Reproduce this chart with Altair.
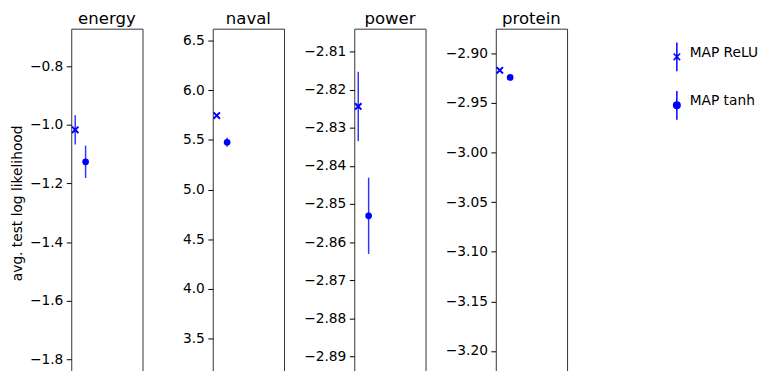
import altair as alt
import pandas as pd

# ---- data ----
datasets = ["energy", "naval", "power", "protein"]
models = ["MAP ReLU", "MAP tanh"]
model_pos = [0, 1]

relu_mean = [-1.017, 5.745, -2.8244, -2.9173]
relu_err = [0.050, 0.012, 0.0091, 0.0015]
tanh_mean = [-1.126, 5.476, -2.8531, -2.9245]
tanh_err = [0.055, 0.045, 0.0100, 0.0015]

y_lo = [-1.860, 3.111, -2.8954, -3.2262]
y_hi = [-0.672, 6.620, -2.8040, -2.8754]

energy_ticks = [-1.8, -1.6, -1.4, -1.2, -1.0, -0.8]
naval_ticks = [3.5, 4.0, 4.5, 5.0, 5.5, 6.0, 6.5]
power_ticks = [-2.89, -2.88, -2.87, -2.86, -2.85, -2.84, -2.83, -2.82, -2.81]
protein_ticks = [-3.20, -3.15, -3.10, -3.05, -3.00, -2.95, -2.90]
all_ticks = [energy_ticks, naval_ticks, power_ticks, protein_ticks]
tick_formats = [".1f", ".1f", ".2f", ".2f"]

y_title = "avg. test log likelihood"

# ---- styling ----
FONT = "DejaVu Sans"
BLUE = "#0000ff"
X_DOMAIN = [-0.381, 6.476]
PANEL_W = 72
PANEL_H = 352

X_MARK = "M-1,-1L1,1M-1,1L1,-1"
LEG_RELU = "M0,-2.9L0,2.9M-0.66,-0.66L0.66,0.66M-0.66,0.66L0.66,-0.66"
LEG_TANH = "M0,-2.9L0,2.9M0.66,0A0.66,0.66,0,1,1,-0.66,0A0.66,0.66,0,1,1,0.66,0Z"


def panel(i):
    df = pd.DataFrame({
        "model": models,
        "pos": model_pos,
        "mean": [relu_mean[i], tanh_mean[i]],
        "err": [relu_err[i], tanh_err[i]],
    })
    base = alt.Chart(df)
    xenc = alt.X("pos:Q", scale=alt.Scale(domain=X_DOMAIN, nice=False, zero=False), axis=None)
    yscale = alt.Scale(domain=[y_lo[i], y_hi[i]], nice=False, zero=False)
    axis_kw = dict(values=all_ticks[i], format=tick_formats[i], minExtent=42, maxExtent=42)
    if i == 0:
        yaxis = alt.Axis(title=y_title, titlePadding=5, **axis_kw)
    else:
        yaxis = alt.Axis(title=None, **axis_kw)

    bars = base.transform_calculate(
        lo="datum.mean - datum.err", hi="datum.mean + datum.err"
    ).mark_rule(color=BLUE, strokeWidth=1.5, opacity=0.8).encode(
        x=xenc,
        y=alt.Y("lo:Q", scale=yscale, axis=yaxis),
        y2="hi:Q",
    )
    relu = base.transform_filter(alt.datum.model == "MAP ReLU").mark_point(
        shape=X_MARK, size=42, filled=False, color=BLUE, strokeWidth=2, opacity=1
    ).encode(x=xenc, y=alt.Y("mean:Q", scale=yscale, axis=yaxis))
    tanh = base.transform_filter(alt.datum.model == "MAP tanh").mark_point(
        shape="circle", size=46, filled=True, color=BLUE, opacity=1
    ).encode(x=xenc, y=alt.Y("mean:Q", scale=yscale, axis=yaxis))

    layers = [bars, relu, tanh]
    if i == len(datasets) - 1:
        legend_layer = base.mark_point(
            filled=True, fill=BLUE, stroke=BLUE, strokeWidth=1.5, opacity=0
        ).encode(
            x=xenc,
            y=alt.Y("mean:Q", scale=yscale, axis=yaxis),
            shape=alt.Shape(
                "model:N",
                scale=alt.Scale(domain=models, range=[LEG_RELU, LEG_TANH]),
                legend=alt.Legend(
                    title=None, orient="none", legendX=605, legendY=21.5,
                    labelFont=FONT, labelFontSize=13.9, labelColor="black",
                    labelBaseline="alphabetic", labelOffset=6,
                    symbolSize=100, symbolOpacity=1, symbolStrokeWidth=1.5,
                    rowPadding=13, padding=0,
                ),
            ),
        )
        layers.append(legend_layer)

    return alt.layer(*layers).properties(
        width=PANEL_W,
        height=PANEL_H,
        title=alt.TitleParams(text=datasets[i]),
    )


chart = alt.hconcat(*[panel(i) for i in range(len(datasets))], spacing=71, bounds="flush").properties(
    padding={"left": 10, "top": 8, "right": 5, "bottom": 0},
).configure_view(
    stroke="#333", strokeWidth=1
).configure_axis(
    labelFont=FONT, labelFontSize=13.9, labelColor="black",
    tickColor="black", tickSize=5, tickWidth=1, labelPadding=3.5,
    domain=False, grid=False,
    titleFont=FONT, titleFontSize=13.9, titleFontWeight="normal", titleColor="black",
).configure_title(
    font=FONT, fontSize=16.7, fontWeight="normal", color="black", offset=1.5, anchor="middle",
)

chart.save("out.html", embed_options={"renderer": "svg", "actions": False})
